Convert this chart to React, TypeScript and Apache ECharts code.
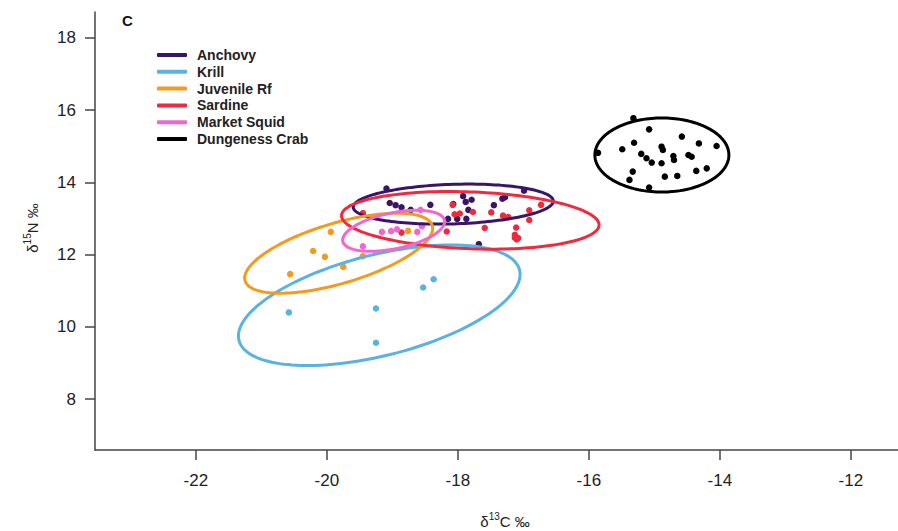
import React, { useEffect, useRef } from "react";
import * as echarts from "echarts";

// ---------- data ----------
const speciesNames = ["Anchovy", "Krill", "Juvenile Rf", "Sardine", "Market Squid", "Dungeness Crab"];
const speciesColors = ["#3a1468", "#58b2e2", "#f59a1c", "#ee2a3c", "#f267cf", "#000000"];

const xTicks = [-22, -20, -18, -16, -14, -12];
const yTicks = [8, 10, 12, 14, 16, 18];

const anchovyC = [-19.09, -19.04, -18.95, -18.86, -18.72, -18.42, -18.07, -17.92, -17.88, -17.84, -17.79, -18.15, -18.01, -17.87, -17.45, -17.32, -17.28, -16.99, -17.68];
const anchovyN = [13.83, 13.43, 13.37, 13.31, 13.24, 13.38, 13.40, 13.62, 13.46, 13.24, 13.52, 12.99, 12.99, 12.99, 13.37, 13.55, 13.59, 13.77, 12.29];

const krillC = [-20.58, -19.25, -19.25, -18.53, -18.37];
const krillN = [10.40, 10.51, 9.56, 11.09, 11.32];

const rfC = [-19.94, -20.21, -20.03, -19.75, -20.56, -19.45, -18.76];
const rfN = [12.63, 12.10, 11.94, 11.66, 11.46, 11.96, 12.66];

const sardineC = [-19.45, -18.05, -17.97, -17.77, -17.49, -17.31, -17.23, -16.91, -16.91, -16.73, -18.17, -17.59, -17.11, -17.13, -17.13, -17.08, -17.10, -18.86, -18.08];
const sardineN = [13.15, 13.12, 13.14, 13.18, 13.17, 13.08, 13.04, 13.23, 12.96, 13.38, 12.64, 12.74, 12.75, 12.55, 12.47, 12.46, 12.42, 12.61, 13.38];

const squidC = [-19.16, -19.02, -18.93, -18.62, -19.45, -18.55, -18.57];
const squidN = [12.63, 12.65, 12.70, 12.63, 12.23, 12.79, 13.24];

const crabC = [-15.32, -15.08, -15.86, -15.49, -15.31, -14.89, -14.87, -14.58, -14.32, -14.05, -15.20, -15.12, -15.04, -14.89, -14.71, -14.70, -14.48, -14.43, -15.33, -15.38, -14.84, -14.65, -14.36, -14.20, -15.08];
const crabN = [15.78, 15.47, 14.82, 14.92, 15.10, 14.99, 14.90, 15.27, 15.08, 15.01, 14.79, 14.67, 14.55, 14.53, 14.73, 14.62, 14.76, 14.71, 14.30, 14.07, 14.16, 14.18, 14.32, 14.39, 13.86];

// standard ellipse parameters (per species, in legend order)
const ellipseMeanC = [-18.07, -19.20, -19.82, -17.81, -18.98, -14.885];
const ellipseMeanN = [13.40, 10.60, 12.04, 12.95, 12.66, 14.76];
const ellipseSdC = [1.527, 2.150, 1.435, 1.966, 0.779, 1.023];
const ellipseSdN = [0.554, 1.670, 1.108, 0.798, 0.568, 1.025];
const ellipseRho = [0.15, 0.51, 0.62, -0.16, 0.45, 0.0];

const pointsC = [anchovyC, krillC, rfC, sardineC, squidC, crabC];
const pointsN = [anchovyN, krillN, rfN, sardineN, squidN, crabN];

const FONT = "'Liberation Sans', Arial, Helvetica, sans-serif";

export default function App() {
  const ref = useRef<HTMLDivElement>(null);

  useEffect(() => {
    if (!ref.current) return;
    const chart = echarts.init(ref.current, undefined, { renderer: "svg" });

    const scatterSeries = speciesNames.map((name, i) => ({
      type: "scatter",
      name,
      data: pointsC[i].map((c, j) => [c, pointsN[i][j]]),
      symbol: "circle",
      symbolSize: 6.5,
      itemStyle: { color: speciesColors[i], opacity: 1 },
      z: 2,
    }));

    const ellipseSeries = speciesNames.map((name, i) => ({
      type: "custom",
      name,
      data: [[ellipseMeanC[i], ellipseMeanN[i]]],
      encode: { x: 0, y: 1 },
      clip: false,
      z: 3,
      itemStyle: { color: speciesColors[i] },
      renderItem: (_params: any, api: any) => {
        const cx = ellipseMeanC[i];
        const cy = ellipseMeanN[i];
        const sx = ellipseSdC[i];
        const sy = ellipseSdN[i];
        const r = ellipseRho[i];
        const q = Math.sqrt(1 - r * r);
        const pts: number[][] = [];
        const steps = 160;
        for (let k = 0; k < steps; k++) {
          const t = (k / steps) * Math.PI * 2;
          const x = cx + sx * Math.cos(t);
          const y = cy + sy * (r * Math.cos(t) + q * Math.sin(t));
          pts.push(api.coord([x, y]));
        }
        return {
          type: "polygon",
          shape: { points: pts },
          style: { fill: "none", stroke: speciesColors[i], lineWidth: 3 },
        };
      },
    }));

    const option: any = {
      animation: false,
      backgroundColor: "#ffffff",
      grid: { left: 95, right: 0, top: 12, bottom: 81, containLabel: false },
      xAxis: {
        type: "value",
        min: -23.54,
        max: -11.28,
        splitLine: { show: false },
        axisLine: { show: true, onZero: false, lineStyle: { color: "#444", width: 1.5 } },
        axisTick: { show: true, length: 10, lineStyle: { color: "#444", width: 1.5 }, customValues: xTicks },
        axisLabel: { customValues: xTicks, margin: 22, fontSize: 17, color: "#222", fontFamily: FONT },
      },
      yAxis: {
        type: "value",
        min: 6.59,
        max: 18.72,
        splitLine: { show: false },
        axisLine: { show: true, onZero: false, lineStyle: { color: "#444", width: 1.5 } },
        axisTick: { show: true, length: 10, lineStyle: { color: "#444", width: 1.5 }, customValues: yTicks },
        axisLabel: { customValues: yTicks, margin: 19, fontSize: 17, color: "#222", fontFamily: FONT },
      },
      legend: {
        orient: "vertical",
        left: 152,
        top: 43,
        itemWidth: 30,
        itemHeight: 4,
        itemGap: 2.8,
        icon: "roundRect",
        data: speciesNames,
        selectedMode: false,
        textStyle: { fontSize: 14, fontWeight: "bold", color: "#222", fontFamily: FONT, padding: [0, 0, 0, 5] },
      },
      graphic: [
        {
          type: "text",
          left: 122,
          top: 13,
          style: { text: "C", fontSize: 15, fontWeight: "bold", fill: "#111", fontFamily: FONT },
        },
        {
          type: "text",
          x: 505,
          y: 521,
          style: {
            text: "{n|δ}{s|13}{n|C ‰}",
            align: "center",
            verticalAlign: "middle",
            fill: "#222",
            fontFamily: FONT,
            rich: {
              n: { fontSize: 15, fontFamily: FONT, fill: "#222", lineHeight: 20 },
              s: { fontSize: 10, fontFamily: FONT, fill: "#222", verticalAlign: "top", lineHeight: 20 },
            },
          },
        },
        {
          type: "text",
          x: 32,
          y: 228,
          rotation: Math.PI / 2,
          style: {
            text: "{n|δ}{s|15}{n|N ‰}",
            align: "center",
            verticalAlign: "middle",
            fill: "#222",
            fontFamily: FONT,
            rich: {
              n: { fontSize: 15, fontFamily: FONT, fill: "#222", lineHeight: 20 },
              s: { fontSize: 10, fontFamily: FONT, fill: "#222", verticalAlign: "top", lineHeight: 20 },
            },
          },
        },
      ],
      series: [...scatterSeries, ...ellipseSeries],
    };

    chart.setOption(option);
    return () => chart.dispose();
  }, []);

  return (
    <div
      ref={ref}
      style={{ position: "fixed", left: 0, top: 0, width: 898, height: 531, background: "#fff" }}
    />
  );
}
